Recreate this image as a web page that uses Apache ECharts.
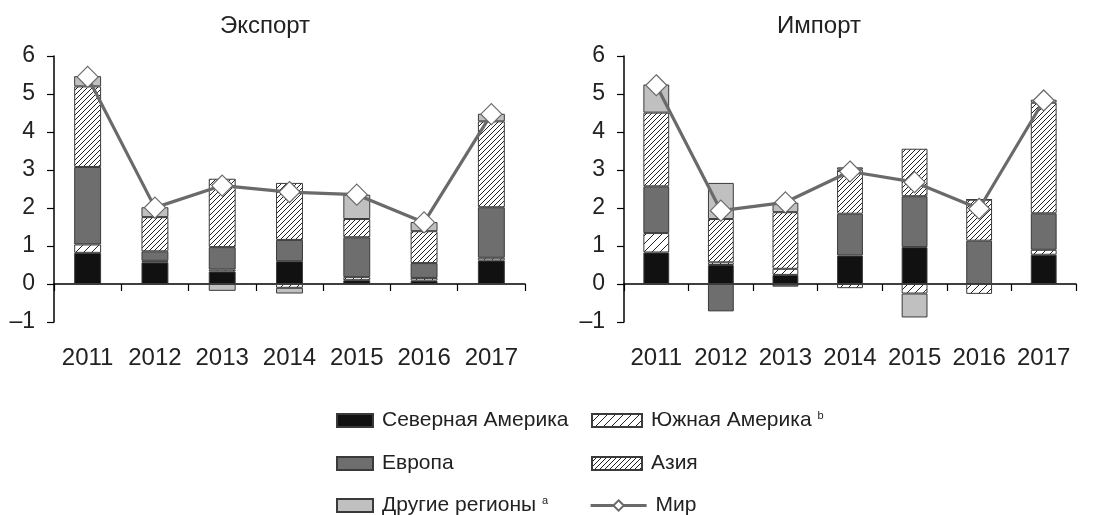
<!DOCTYPE html>
<html>
<head>
<meta charset="utf-8">
<script src="https://cdn.jsdelivr.net/npm/echarts@6/dist/echarts.min.js"></script>
<style>
  html, body { margin: 0; padding: 0; background: #fff; }
  #chart { width: 1107px; height: 515px; }
</style>
</head>
<body>
<div id="chart"></div>
<script>
// годы
const years = ['2011', '2012', '2013', '2014', '2015', '2016', '2017'];

// Экспорт
const exNorthAm = [0.82, 0.57, 0.33, 0.60, 0.10, 0.09, 0.62];
const exSouthAm = [0.22, 0.04, 0.05, -0.10, 0.08, 0.07, 0.07];
const exEurope = [2.04, 0.25, 0.59, 0.56, 1.05, 0.39, 1.33];
const exAsia = [2.12, 0.90, 1.80, 1.50, 0.48, 0.84, 2.26];
const exOther = [0.27, 0.26, -0.18, -0.15, 0.64, 0.24, 0.20];
const exWorld = [5.45, 2.01, 2.59, 2.42, 2.35, 1.62, 4.47];

// Импорт
const imNorthAm = [0.83, 0.50, 0.24, 0.75, 0.97, 0, 0.77];
const imSouthAm = [0.51, 0.07, 0.16, -0.11, -0.25, -0.26, 0.13];
const imEurope = [1.23, -0.72, -0.07, 1.10, 1.34, 1.14, 0.96];
const imAsia = [1.94, 1.14, 1.49, 1.16, 1.25, 1.08, 2.91];
const imOther = [0.74, 0.95, 0.25, 0.06, -0.63, 0, 0.08];
const imWorld = [5.23, 1.93, 2.15, 2.96, 2.68, 1.98, 4.83];

const FONT = '"Liberation Sans", Arial, sans-serif';

// штриховка "/"
function hatch(step, lw) {
  let c = document.createElement('canvas');
  c.width = c.height = step;
  let g = c.getContext('2d');
  g.fillStyle = '#fff';
  g.fillRect(0, 0, step, step);
  g.strokeStyle = '#222';
  g.lineWidth = lw;
  g.beginPath();
  g.moveTo(0, step); g.lineTo(step, 0);
  g.moveTo(-1, 1); g.lineTo(1, -1);
  g.moveTo(step - 1, step + 1); g.lineTo(step + 1, step - 1);
  g.stroke();
  return { image: c, repeat: 'repeat' };
}

const sparse = hatch(8, 1);
const dense = hatch(5, 1);

function barSeries(name, data, color, idx) {
  return {
    name: name,
    type: 'bar',
    stack: 'p' + idx,
    xAxisIndex: idx * 2,
    yAxisIndex: idx,
    barWidth: '40%',
    data: data,
    itemStyle: { color: color, borderColor: '#3a3a3a', borderWidth: 1 },
  };
}

function lineSeries(data, idx) {
  return {
    name: 'Мир',
    type: 'line',
    xAxisIndex: idx * 2,
    yAxisIndex: idx,
    data: data,
    z: 5,
    symbol: 'diamond',
    symbolSize: 21,
    lineStyle: { color: '#6a6a6a', width: 3.2 },
    itemStyle: { color: '#fff', borderColor: '#6a6a6a', borderWidth: 1.2 },
  };
}

function panelSeries(idx, na, sa, eu, as, ot, w) {
  return [
    barSeries('Северная Америка', na, '#111', idx),
    barSeries('Южная Америка', sa, sparse, idx),
    barSeries('Европа', eu, '#6e6e6e', idx),
    barSeries('Азия', as, dense, idx),
    barSeries('Другие регионы', ot, '#c0c0c0', idx),
    lineSeries(w, idx),
  ];
}

// ось с нулевой линией + ось только для подписей годов
function xAxes(gridIndex) {
  return [
    {
      type: 'category', gridIndex: gridIndex, data: years,
      axisLine: { onZero: true, lineStyle: { color: '#000', width: 1.5 } },
      axisTick: { show: true, length: 7, lineStyle: { color: '#000', width: 1.2 } },
      axisLabel: { show: false },
    },
    {
      type: 'category', gridIndex: gridIndex, data: years, position: 'bottom',
      axisLine: { show: false }, axisTick: { show: false },
      axisLabel: { interval: 0, hideOverlap: false, margin: 24, fontSize: 24, color: '#222', fontFamily: FONT },
    },
  ];
}

function yAxis(gridIndex) {
  return {
    type: 'value', gridIndex: gridIndex, min: -1, max: 6, interval: 1,
    splitLine: { show: false },
    axisLine: { show: true, lineStyle: { color: '#000', width: 1.5 } },
    axisTick: { show: true, length: 7, lineStyle: { color: '#000', width: 1.2 } },
    axisLabel: {
      margin: 19, fontSize: 23, color: '#222', fontFamily: FONT,
      formatter: v => (v < 0 ? '–' + Math.abs(v) : String(v)),
    },
  };
}

// легенда: по одному элементу, 2 колонки x 3 строки
const legendItems = [
  { name: 'Северная Америка', left: 336, row: 0, w: 36 },
  { name: 'Европа', left: 336, row: 1, w: 36 },
  { name: 'Другие регионы', left: 336, row: 2, w: 36 },
  { name: 'Южная Америка', left: 591, row: 0, w: 50 },
  { name: 'Азия', left: 591, row: 1, w: 50 },
  { name: 'Мир', left: 589, row: 2, w: 56 },
];
const rowY = [418, 461, 503];

function legendFmt(name) {
  if (name === 'Южная Америка') return name + ' {s|b}';
  if (name === 'Другие регионы') return name + ' {s|a}';
  return name;
}

let legends = legendItems.map(it => ({
  data: [it.name],
  left: it.left,
  top: rowY[it.row] - 8,
  padding: 0,
  itemWidth: it.w,
  itemHeight: 13,
  icon: it.name === 'Мир' ? undefined : 'rect',
  lineStyle: { width: 3.2 },
  formatter: legendFmt,
  textStyle: {
    fontSize: 21, color: '#222', fontFamily: FONT, padding: [0, 0, 0, 4],
    rich: { s: { fontSize: 11, verticalAlign: 'top', padding: [0, 0, 10, 0], fontFamily: FONT, color: '#222' } },
  },
}));

let chart = echarts.init(document.getElementById('chart'));
let option = {
  backgroundColor: '#fff',
  animation: false,
  title: [
    { text: 'Экспорт', left: 260, top: 9, textAlign: 'center', textStyle: { fontSize: 24, fontWeight: 'normal', color: '#222', fontFamily: FONT } },
    { text: 'Импорт', left: 814, top: 9, textAlign: 'center', textStyle: { fontSize: 24, fontWeight: 'normal', color: '#222', fontFamily: FONT } },
  ],
  grid: [
    { left: 54, top: 56, width: 471, height: 266 },
    { left: 624, top: 56, width: 452, height: 266 },
  ],
  xAxis: [...xAxes(0), ...xAxes(1)],
  yAxis: [yAxis(0), yAxis(1)],
  legend: legends,
  series: [
    ...panelSeries(0, exNorthAm, exSouthAm, exEurope, exAsia, exOther, exWorld),
    ...panelSeries(1, imNorthAm, imSouthAm, imEurope, imAsia, imOther, imWorld),
  ],
};
chart.setOption(option);
</script>
</body>
</html>
